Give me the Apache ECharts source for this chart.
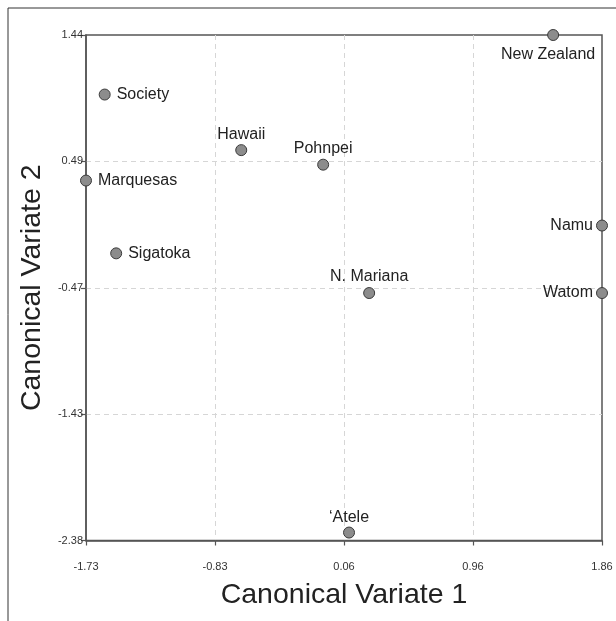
<!DOCTYPE html>
<html>
<head>
<meta charset="utf-8">
<script src="https://cdn.jsdelivr.net/npm/echarts@6/dist/echarts.min.js"></script>
<style>
  html, body { margin: 0; padding: 0; background: #fff; }
  #chart { width: 616px; height: 621px; }
</style>
</head>
<body>
<div id="chart"></div>
<script>
// Canonical variates scatter: one labelled point per site.
const sites = ['New Zealand', 'Society', 'Hawaii', 'Pohnpei', 'Marquesas', 'Sigatoka', 'N. Mariana', 'Namu', 'Watom', '\u2018Atele'];
const cv1 = [1.52, -1.60, -0.65, -0.08, -1.73, -1.52, 0.24, 1.86, 1.86, 0.10];
const cv2 = [1.44, 0.99, 0.57, 0.46, 0.34, -0.21, -0.51, 0.00, -0.51, -2.32];

// Axis ends and the tick labels printed between them (4 equal steps).
const xRange = [-1.73, 1.86];
const yRange = [-2.38, 1.44];
const xTickLabels = ['-1.73', '-0.83', '0.06', '0.96', '1.86'];
const yTickLabels = ['-2.38', '-1.43', '-0.47', '0.49', '1.44'];

const labelSide = {
  'New Zealand': { position: 'bottom', offset: [-5, 0] },
  'Hawaii': { position: 'top', distance: 2 },
  'Pohnpei': { position: 'top', distance: 2 },
  'N. Mariana': { position: 'top', distance: 2 },
  '\u2018Atele': { position: 'top', distance: 1 },
  'Namu': { position: 'left', distance: 3 },
  'Watom': { position: 'left', distance: 3 },
};

const FONT = '"Liberation Sans", Arial, Helvetica, sans-serif';
const AXIS_COLOR = '#555';

const chart = echarts.init(document.getElementById('chart'), null, { renderer: 'canvas' });

// Hidden data axis (real units) + visible display axis (tick index 0..4) sharing the grid.
const displayAxis = (labels, extra) => ({
  type: 'value', min: 0, max: 4, interval: 1,
  axisLine: { show: true, lineStyle: { color: AXIS_COLOR, width: 1.5 } },
  axisTick: { show: true, length: 5, lineStyle: { color: AXIS_COLOR, width: 1.2 } },
  splitLine: { show: true, showMinLine: false, showMaxLine: false,
    lineStyle: { color: '#d6d6d6', type: [5, 4], width: 1 } },
  nameTextStyle: { color: '#222', fontSize: 28.5, fontFamily: FONT },
  nameLocation: 'middle',
  ...extra,
});

chart.setOption({
  animation: false,
  grid: { left: 86, top: 35, right: 14, bottom: 80.5, show: true, borderColor: AXIS_COLOR, borderWidth: 1.5 },
  graphic: [{
    type: 'polyline', silent: true,
    shape: { points: [[8, 621], [8, 8], [616, 8]] },
    style: { stroke: '#333', lineWidth: 1, fill: null },
  }],
  xAxis: [
    { type: 'value', min: xRange[0], max: xRange[1], show: false },
    displayAxis(xTickLabels, { position: 'bottom', name: 'Canonical Variate 1', nameGap: 40,
      axisLabel: { color: '#333', fontSize: 11, fontFamily: FONT, margin: 21, formatter: (v) => xTickLabels[v] } }),
  ],
  yAxis: [
    { type: 'value', min: yRange[0], max: yRange[1], show: false },
    displayAxis(yTickLabels, { position: 'left', name: 'Canonical Variate 2', nameGap: 37,
      axisLabel: { color: '#333', fontSize: 11, fontFamily: FONT, margin: 3, formatter: (v) => yTickLabels[v] } }),
  ],
  series: [{
    type: 'scatter', xAxisIndex: 0, yAxisIndex: 0, clip: false,
    symbolSize: 11,
    itemStyle: { color: '#8c8c8c', borderColor: '#3a3a3a', borderWidth: 1, opacity: 1 },
    label: { show: true, position: 'right', distance: 6, color: '#222', fontSize: 16, fontFamily: FONT },
    data: sites.map((name, i) => ({ name, value: [cv1[i], cv2[i]], label: { formatter: name, ...(labelSide[name] || {}) } })),
    z: 10,
  }],
});
</script>
</body>
</html>
